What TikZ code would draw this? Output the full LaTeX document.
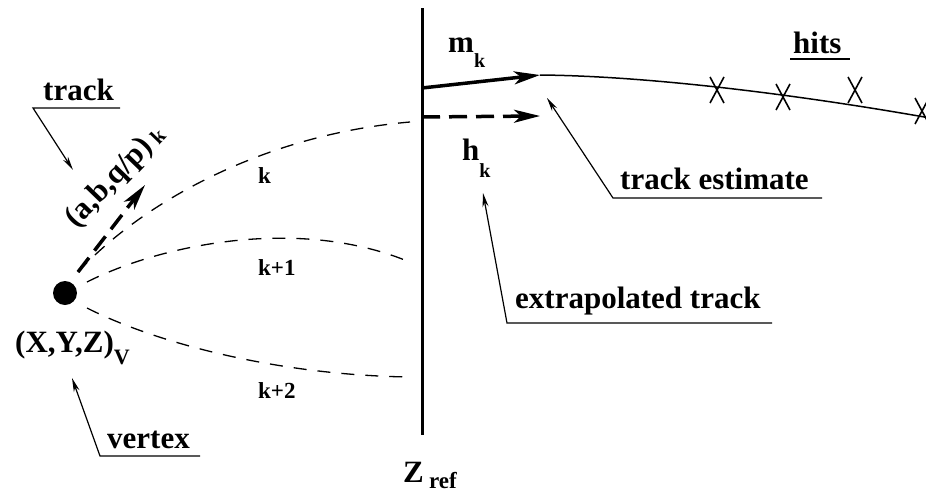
\documentclass[tikz,border=0pt]{standalone}
\usepackage{fontspec}
\setmainfont{Liberation Serif}
\usetikzlibrary{arrows.meta}

% lowered, smaller index text: [drop]{size}{text}
\newcommand{\subtxt}[3][0.5em]{\raisebox{-#1}{\fontsize{#2}{#2}\selectfont #3}}

\begin{document}
\begin{tikzpicture}[x=1pt, y=-1pt]
  \tikzset{
    lbl/.style={font=\fontsize{31}{31}\selectfont\bfseries, inner sep=0pt, anchor=base west},
    idx/.style={font=\fontsize{23}{23}\selectfont\bfseries, inner sep=0pt, anchor=base west},
    ptr/.style={draw=black, line width=1.2pt, -{Stealth[length=14pt, width=6pt]}},
    trk/.style={draw=black, line width=1.3pt, dash pattern=on 13pt off 11pt},
    fat/.style={draw=black, line width=3.5pt, -{Stealth[length=26pt, width=13pt, inset=7pt]}},
    fatdash/.style={fat, dash pattern=on 18pt off 9pt},
    hitx/.style={draw=black, line width=1.6pt}
  }
  \useasboundingbox (0,0) rectangle (926,493);

  % reference plane
  \coordinate (zTop) at (422,8);
  \coordinate (zBot) at (422,435);
  \draw[line width=3pt] (zTop) -- (zBot);
  \node[lbl] (zref) at (403,482) {Z\,\subtxt[6pt]{23}{ref}};

  % vertex
  \node[circle, fill=black, minimum size=24pt, inner sep=0pt] (vtx) at (65,293) {};
  \node[lbl] (vpos) at (15,352) {(X,Y,Z)\subtxt[12pt]{22}{V}};

  % candidate tracks k, k+1, k+2
  \coordinate (k0s) at (78,272);    % start of k
  \coordinate (k0e) at (410,122);   % end of k
  \coordinate (k1s) at (87,282);
  \coordinate (k1e) at (412,263);
  \coordinate (k2s) at (87,308);
  \coordinate (k2e) at (410,377);
  \draw[trk] (k0s) .. controls (140,205) and (260,135) .. (k0e);
  \draw[trk] (k1s) .. controls (160,245) and (300,215) .. (k1e);
  \draw[trk] (k2s) .. controls (150,340) and (270,375) .. (k2e);
  \node[idx] (lk0) at (258,183) {k};
  \node[idx] (lk1) at (258,275) {k+1};
  \node[idx] (lk2) at (258,398) {k+2};

  % track parameters at the vertex
  \coordinate (parTip) at (145,185);
  \draw[fatdash] (k0s) -- (parTip);
  \node[lbl, rotate=46] (par) at (76,229) {(a,b,q/p)\,\subtxt[2pt]{21}{k}};

  % measurement and extrapolation at Z_ref
  \coordinate (mS) at (422,88);
  \coordinate (mE) at (540,75);
  \coordinate (hS) at (422,117);
  \coordinate (hE) at (540,116);
  \draw[fat] (mS) -- (mE);
  \draw[fatdash] (hS) -- (hE);
  \node[lbl] (mk) at (448,52) {m\subtxt[15pt]{20}{k}};
  \node[lbl] (hk) at (462,160) {h\subtxt[17pt]{20}{k}};

  % fitted track through the hits
  \coordinate (tEnd) at (930,118);
  \draw[line width=1.5pt] (mE) .. controls (650,76) and (800,95) .. (tEnd);
  \foreach \x/\y [count=\i] in {717/90, 783/97, 855/90, 922/111} {
    \coordinate (hit\i) at (\x,\y);
    \draw[hitx] ([shift={(-7,-13)}]hit\i) -- ([shift={(7,13)}]hit\i)
                ([shift={(7,-13)}]hit\i) -- ([shift={(-7,13)}]hit\i);
  }

  % labels with underline and pointer
  \node[lbl] (hits) at (793,53) {hits};
  \coordinate (hitsL) at (790,59);
  \coordinate (hitsR) at (850,59);
  \draw[line width=1.2pt] (hitsL) -- (hitsR);

  \node[lbl] (trk) at (43,100) {track};
  \coordinate (trkL) at (33,108);
  \coordinate (trkR) at (120,108);
  \coordinate (trkTip) at (73,170);
  \draw[ptr] (trkR) -- (trkL) -- (trkTip);

  \node[lbl] (vtxl) at (107,448) {vertex};
  \coordinate (vtxL) at (100,456);
  \coordinate (vtxR) at (200,456);
  \coordinate (vtxTip) at (72,378);
  \draw[ptr] (vtxR) -- (vtxL) -- (vtxTip);

  \node[lbl] (est) at (620,189) {track estimate};
  \coordinate (estL) at (613,198);
  \coordinate (estR) at (822,198);
  \coordinate (estTip) at (547,98);
  \draw[ptr] (estR) -- (estL) -- (estTip);

  \node[lbl] (extr) at (515,308) {extrapolated track};
  \coordinate (extrL) at (507,323);
  \coordinate (extrR) at (772,323);
  \coordinate (extrTip) at (483,193);
  \draw[ptr] (extrR) -- (extrL) -- (extrTip);
\end{tikzpicture}
\end{document}
